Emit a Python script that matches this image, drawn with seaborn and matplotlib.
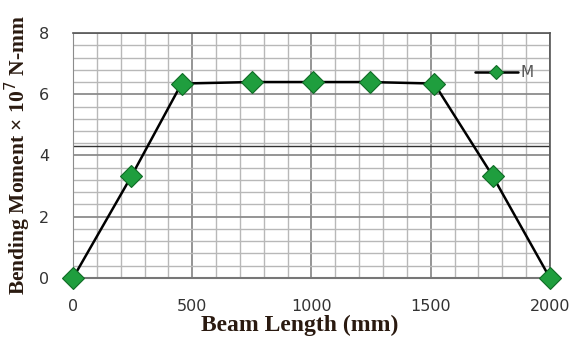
import matplotlib
matplotlib.use("Agg")
import matplotlib.pyplot as plt
import seaborn as sns
import pandas as pd
import numpy as np

beam_length = [0, 245, 455, 750, 1005, 1245, 1515, 1760, 2000]
moment = [0.0, 3.33, 6.35, 6.4, 6.4, 6.4, 6.35, 3.33, 0.0]
series_name = "M"
x_ticks = [0, 500, 1000, 1500, 2000]
y_ticks = [0, 2, 4, 6, 8]

sns.set_style("white")
df = pd.DataFrame({"x": beam_length, "y": moment, "s": [series_name] * len(beam_length)})

fig = plt.figure(figsize=(5.71, 3.41), dpi=100)
ax = fig.add_axes([0.128, 0.185, 0.835, 0.718])

# grid
for v in np.arange(0, 2001, 100):
    major = (v % 500 == 0)
    ax.axvline(v, color="#8c8c8c" if major else "#b8b8b8", lw=1.3 if major else 1.0, zorder=0)
for v in np.arange(0, 8.01, 0.4):
    major = abs(v / 2 - round(v / 2)) < 1e-6
    ax.axhline(v, color="#8c8c8c" if major else "#b8b8b8", lw=1.3 if major else 1.0, zorder=0)

ax.axhline(4.31, color="#333333", lw=1.0, zorder=1)

sns.lineplot(data=df, x="x", y="y", hue="s", palette=["black"], ax=ax,
             marker="D", markersize=11, markerfacecolor="#1f9e3e",
             markeredgecolor="#0f6b25", markeredgewidth=0.8, lw=1.8,
             clip_on=False, zorder=3)

ax.set_xlim(0, 2000)
ax.set_ylim(0, 8)
ax.set_xticks(x_ticks)
ax.set_yticks(y_ticks)
ax.set_xticks(np.arange(0, 2001, 100), minor=True)
ax.tick_params(axis="x", which="both", direction="out", length=4, color="#777777", width=1)
ax.tick_params(axis="y", which="both", length=0)
ax.tick_params(axis="x", labelsize=11.5, labelcolor="#333333", pad=11)
ax.tick_params(axis="y", labelsize=11.5, labelcolor="#333333", pad=17)
for lab in ax.get_xticklabels() + ax.get_yticklabels():
    lab.set_family("DejaVu Sans")

for side in ["top", "right"]:
    ax.spines[side].set_visible(True)
    ax.spines[side].set_color("#555555")
    ax.spines[side].set_linewidth(1.2)
ax.spines["left"].set_color("#8c8c8c")
ax.spines["bottom"].set_color("#777777")
ax.spines["bottom"].set_linewidth(1.5)

ax.set_xlabel("Beam Length (mm)", fontsize=17, fontweight="bold",
              family="Liberation Serif", color="#2a1a10")
ax.xaxis.set_label_coords(0.476, -0.15)
ax.set_ylabel("Bending Moment \u00d7 10$^7$ N-mm", fontsize=15.5, fontweight="bold",
              family="Liberation Serif", color="#2a1a10")
ax.yaxis.set_label_coords(-0.085, 0.5)

leg = ax.legend(loc="upper right", bbox_to_anchor=(0.995, 0.925), frameon=False,
                fontsize=11, handlelength=2.8, handletextpad=0.2, markerscale=0.65)
for t in leg.get_texts():
    t.set_color("#555555")

fig.savefig("out.png", dpi=100)
